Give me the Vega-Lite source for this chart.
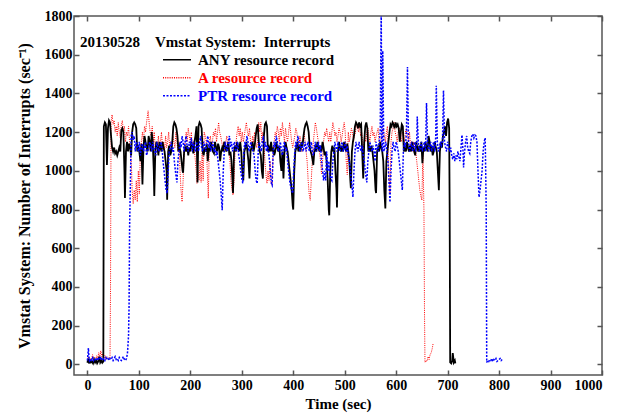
{
"$schema":"https://vega.github.io/schema/vega-lite/v6.json",
"width":528,"height":359,"autosize":"none",
"padding":{"left":74,"top":16,"right":26,"bottom":39},
"title":{"text":"20130528\u00a0\u00a0\u00a0\u00a0Vmstat System:\u00a0\u00a0Interrupts","anchor":"start","frame":"group","orient":"top","offset":0,"baseline":"alphabetic","dx":6,"dy":53,"font":"Liberation Serif","fontSize":15,"fontWeight":"bold","color":"black"},
"config":{
 "view":{"stroke":"#555","strokeWidth":1.5},
 "axis":{"labelFont":"Liberation Serif","labelFontWeight":"bold","labelFontSize":14,"labelColor":"black","titleFont":"Liberation Serif","titleFontWeight":"bold","titleFontSize":15,"titleColor":"black","tickColor":"#555","tickWidth":1.5,"tickSize":-5,"domain":false,"grid":false,"format":"d"}
},
"datasets":{
"any":[{"t":0,"v":8},{"t":2,"v":30},{"t":3,"v":5},{"t":5,"v":20},{"t":7,"v":10},{"t":9,"v":15},{"t":11,"v":5},{"t":13,"v":25},{"t":15,"v":10},{"t":17,"v":20},{"t":19,"v":5},{"t":21,"v":15},{"t":23,"v":40},{"t":25,"v":10},{"t":27,"v":20},{"t":29,"v":8},{"t":31,"v":15},{"t":32,"v":1230},{"t":34,"v":1250},{"t":36,"v":1240},{"t":38,"v":1030},{"t":40,"v":1220},{"t":42,"v":1260},{"t":44,"v":1250},{"t":46,"v":1180},{"t":48,"v":1120},{"t":50,"v":1100},{"t":52,"v":1120},{"t":54,"v":1090},{"t":56,"v":1100},{"t":58,"v":1080},{"t":60,"v":1100},{"t":62,"v":1120},{"t":64,"v":1100},{"t":66,"v":1210},{"t":68,"v":1220},{"t":70,"v":1200},{"t":72,"v":1000},{"t":73,"v":860},{"t":75,"v":1100},{"t":77,"v":1150},{"t":79,"v":1100},{"t":81,"v":1140},{"t":83,"v":1120},{"t":85,"v":1080},{"t":87,"v":1200},{"t":89,"v":1240},{"t":91,"v":1250},{"t":93,"v":1240},{"t":95,"v":1220},{"t":97,"v":1100},{"t":99,"v":1120},{"t":101,"v":1100},{"t":103,"v":1050},{"t":105,"v":1140},{"t":107,"v":930},{"t":109,"v":1120},{"t":111,"v":1180},{"t":113,"v":1150},{"t":115,"v":1120},{"t":117,"v":1100},{"t":119,"v":1180},{"t":121,"v":1150},{"t":123,"v":1100},{"t":125,"v":1200},{"t":127,"v":1150},{"t":129,"v":1000},{"t":130,"v":870},{"t":132,"v":1100},{"t":134,"v":1150},{"t":136,"v":1130},{"t":138,"v":1080},{"t":140,"v":1150},{"t":142,"v":1120},{"t":144,"v":1100},{"t":146,"v":1150},{"t":148,"v":1120},{"t":150,"v":1100},{"t":152,"v":1050},{"t":154,"v":1000},{"t":155,"v":850},{"t":157,"v":1100},{"t":159,"v":1130},{"t":161,"v":1080},{"t":163,"v":1100},{"t":165,"v":1150},{"t":167,"v":1230},{"t":169,"v":1250},{"t":171,"v":1240},{"t":173,"v":1220},{"t":175,"v":1180},{"t":177,"v":1100},{"t":179,"v":1120},{"t":181,"v":1100},{"t":183,"v":1050},{"t":185,"v":1000},{"t":186,"v":990},{"t":188,"v":1100},{"t":190,"v":1120},{"t":192,"v":1100},{"t":194,"v":1130},{"t":196,"v":1080},{"t":198,"v":1120},{"t":200,"v":1100},{"t":202,"v":1150},{"t":204,"v":1120},{"t":206,"v":1090},{"t":208,"v":1150},{"t":210,"v":1180},{"t":212,"v":1230},{"t":214,"v":940},{"t":216,"v":1230},{"t":218,"v":1250},{"t":220,"v":1240},{"t":222,"v":1220},{"t":224,"v":1100},{"t":226,"v":1080},{"t":228,"v":1120},{"t":230,"v":1100},{"t":232,"v":1140},{"t":234,"v":1050},{"t":236,"v":1120},{"t":238,"v":1100},{"t":240,"v":1150},{"t":242,"v":1120},{"t":244,"v":1100},{"t":246,"v":1090},{"t":248,"v":1150},{"t":250,"v":1120},{"t":252,"v":1100},{"t":254,"v":1140},{"t":256,"v":1120},{"t":258,"v":1050},{"t":260,"v":1100},{"t":262,"v":1120},{"t":264,"v":1100},{"t":266,"v":1150},{"t":268,"v":1130},{"t":270,"v":1100},{"t":272,"v":1120},{"t":274,"v":1150},{"t":276,"v":1080},{"t":278,"v":1100},{"t":280,"v":1050},{"t":282,"v":950},{"t":283,"v":885},{"t":285,"v":1100},{"t":287,"v":1130},{"t":289,"v":1100},{"t":291,"v":1150},{"t":293,"v":1120},{"t":295,"v":1100},{"t":297,"v":1150},{"t":299,"v":1100},{"t":301,"v":1000},{"t":303,"v":950},{"t":305,"v":1100},{"t":307,"v":1120},{"t":309,"v":1150},{"t":311,"v":1100},{"t":313,"v":1050},{"t":315,"v":960},{"t":317,"v":1100},{"t":319,"v":1120},{"t":321,"v":1150},{"t":323,"v":1100},{"t":325,"v":1130},{"t":327,"v":1180},{"t":329,"v":1220},{"t":331,"v":1240},{"t":333,"v":1150},{"t":335,"v":1100},{"t":337,"v":1080},{"t":339,"v":1000},{"t":341,"v":960},{"t":343,"v":1180},{"t":345,"v":1240},{"t":347,"v":1250},{"t":349,"v":1230},{"t":351,"v":1100},{"t":353,"v":1120},{"t":355,"v":1100},{"t":357,"v":1150},{"t":359,"v":1100},{"t":361,"v":1120},{"t":363,"v":1080},{"t":365,"v":1100},{"t":367,"v":1150},{"t":369,"v":1120},{"t":371,"v":1100},{"t":373,"v":1130},{"t":375,"v":1050},{"t":377,"v":1000},{"t":379,"v":1100},{"t":381,"v":960},{"t":383,"v":1100},{"t":385,"v":1150},{"t":387,"v":1120},{"t":389,"v":1100},{"t":391,"v":1050},{"t":393,"v":1000},{"t":395,"v":950},{"t":397,"v":900},{"t":399,"v":820},{"t":400,"v":800},{"t":402,"v":1000},{"t":404,"v":1100},{"t":406,"v":1120},{"t":408,"v":1150},{"t":410,"v":1100},{"t":412,"v":1120},{"t":414,"v":1100},{"t":416,"v":1150},{"t":418,"v":1130},{"t":420,"v":1180},{"t":422,"v":1220},{"t":424,"v":1240},{"t":426,"v":1250},{"t":428,"v":1230},{"t":430,"v":1200},{"t":432,"v":1120},{"t":434,"v":1100},{"t":436,"v":1080},{"t":438,"v":1050},{"t":439,"v":1030},{"t":441,"v":1100},{"t":443,"v":1120},{"t":445,"v":1100},{"t":447,"v":1150},{"t":449,"v":1120},{"t":451,"v":1100},{"t":453,"v":1130},{"t":455,"v":1100},{"t":457,"v":1150},{"t":459,"v":1120},{"t":461,"v":1080},{"t":463,"v":1100},{"t":465,"v":1050},{"t":467,"v":950},{"t":469,"v":800},{"t":470,"v":770},{"t":472,"v":1000},{"t":474,"v":1100},{"t":476,"v":1130},{"t":478,"v":1100},{"t":480,"v":1120},{"t":482,"v":1000},{"t":484,"v":900},{"t":485,"v":810},{"t":487,"v":1100},{"t":489,"v":1150},{"t":491,"v":1120},{"t":493,"v":1100},{"t":495,"v":1130},{"t":497,"v":1100},{"t":499,"v":1150},{"t":501,"v":1120},{"t":503,"v":1100},{"t":505,"v":1140},{"t":507,"v":1100},{"t":509,"v":1050},{"t":511,"v":950},{"t":512,"v":910},{"t":514,"v":1100},{"t":516,"v":1150},{"t":518,"v":1180},{"t":520,"v":1230},{"t":522,"v":1250},{"t":524,"v":1240},{"t":526,"v":1220},{"t":528,"v":1250},{"t":530,"v":1230},{"t":532,"v":1240},{"t":534,"v":1100},{"t":536,"v":960},{"t":538,"v":1150},{"t":540,"v":1230},{"t":542,"v":1250},{"t":544,"v":1220},{"t":546,"v":1100},{"t":548,"v":1120},{"t":550,"v":1100},{"t":552,"v":1130},{"t":554,"v":1100},{"t":556,"v":1050},{"t":558,"v":1000},{"t":560,"v":900},{"t":561,"v":885},{"t":563,"v":1100},{"t":565,"v":1120},{"t":567,"v":1100},{"t":569,"v":1150},{"t":571,"v":1120},{"t":573,"v":1100},{"t":575,"v":1050},{"t":577,"v":900},{"t":579,"v":806},{"t":581,"v":1050},{"t":583,"v":1100},{"t":585,"v":1150},{"t":587,"v":1200},{"t":589,"v":1240},{"t":591,"v":1230},{"t":593,"v":1250},{"t":595,"v":1240},{"t":597,"v":1220},{"t":599,"v":1250},{"t":601,"v":1230},{"t":603,"v":1240},{"t":605,"v":1220},{"t":607,"v":1150},{"t":609,"v":1200},{"t":611,"v":1240},{"t":613,"v":1230},{"t":615,"v":1100},{"t":617,"v":1120},{"t":619,"v":1100},{"t":621,"v":1150},{"t":623,"v":1120},{"t":625,"v":1100},{"t":627,"v":1130},{"t":629,"v":1100},{"t":631,"v":1150},{"t":633,"v":1120},{"t":635,"v":1100},{"t":637,"v":1080},{"t":639,"v":1150},{"t":641,"v":1120},{"t":643,"v":1100},{"t":645,"v":1130},{"t":647,"v":1100},{"t":649,"v":1150},{"t":651,"v":1040},{"t":653,"v":1120},{"t":655,"v":1100},{"t":657,"v":1150},{"t":659,"v":1120},{"t":661,"v":1100},{"t":663,"v":1180},{"t":665,"v":1150},{"t":667,"v":1100},{"t":669,"v":1130},{"t":671,"v":1080},{"t":673,"v":1100},{"t":675,"v":1150},{"t":677,"v":1120},{"t":679,"v":1100},{"t":681,"v":1000},{"t":683,"v":900},{"t":685,"v":1100},{"t":687,"v":1150},{"t":689,"v":1120},{"t":691,"v":1180},{"t":693,"v":1200},{"t":695,"v":1230},{"t":697,"v":1180},{"t":699,"v":1250},{"t":701,"v":1270},{"t":703,"v":1220},{"t":704,"v":795},{"t":705,"v":10},{"t":707,"v":5},{"t":709,"v":20},{"t":710,"v":58},{"t":712,"v":10},{"t":714,"v":20},{"t":715,"v":5}],
"a":[{"t":0,"v":20},{"t":2,"v":40},{"t":4,"v":15},{"t":6,"v":30},{"t":8,"v":20},{"t":10,"v":50},{"t":12,"v":25},{"t":14,"v":35},{"t":16,"v":20},{"t":18,"v":45},{"t":20,"v":30},{"t":22,"v":60},{"t":24,"v":35},{"t":26,"v":70},{"t":28,"v":40},{"t":30,"v":55},{"t":32,"v":30},{"t":34,"v":45},{"t":36,"v":25},{"t":38,"v":40},{"t":40,"v":30},{"t":42,"v":35},{"t":44,"v":30},{"t":45,"v":400},{"t":46,"v":1250},{"t":48,"v":1290},{"t":50,"v":1240},{"t":52,"v":1260},{"t":54,"v":1200},{"t":56,"v":1230},{"t":58,"v":1180},{"t":60,"v":1250},{"t":62,"v":1200},{"t":64,"v":1170},{"t":66,"v":1240},{"t":68,"v":1260},{"t":70,"v":1200},{"t":72,"v":1230},{"t":74,"v":1150},{"t":76,"v":1200},{"t":78,"v":1180},{"t":80,"v":1230},{"t":82,"v":1150},{"t":84,"v":1100},{"t":86,"v":1000},{"t":87,"v":900},{"t":89,"v":830},{"t":91,"v":900},{"t":93,"v":850},{"t":95,"v":950},{"t":97,"v":840},{"t":99,"v":1000},{"t":101,"v":880},{"t":103,"v":1100},{"t":105,"v":1150},{"t":107,"v":1200},{"t":109,"v":1150},{"t":111,"v":1230},{"t":113,"v":1200},{"t":115,"v":1250},{"t":117,"v":1290},{"t":118,"v":1310},{"t":120,"v":1250},{"t":122,"v":1200},{"t":124,"v":1180},{"t":126,"v":1230},{"t":128,"v":1150},{"t":130,"v":1200},{"t":132,"v":1100},{"t":134,"v":1150},{"t":136,"v":1120},{"t":138,"v":1180},{"t":140,"v":1100},{"t":142,"v":1150},{"t":144,"v":1200},{"t":146,"v":1120},{"t":148,"v":1150},{"t":150,"v":1100},{"t":152,"v":1180},{"t":154,"v":1120},{"t":156,"v":1150},{"t":158,"v":1200},{"t":160,"v":1120},{"t":162,"v":1150},{"t":164,"v":1100},{"t":166,"v":1180},{"t":168,"v":1150},{"t":170,"v":1120},{"t":172,"v":1200},{"t":174,"v":1150},{"t":176,"v":1100},{"t":178,"v":1150},{"t":180,"v":1000},{"t":182,"v":900},{"t":184,"v":840},{"t":186,"v":950},{"t":188,"v":1100},{"t":190,"v":1150},{"t":192,"v":1200},{"t":194,"v":1150},{"t":196,"v":1220},{"t":198,"v":1180},{"t":200,"v":1150},{"t":202,"v":1200},{"t":204,"v":1120},{"t":206,"v":1150},{"t":208,"v":1100},{"t":210,"v":1050},{"t":212,"v":980},{"t":213,"v":935},{"t":215,"v":1000},{"t":217,"v":950},{"t":219,"v":1050},{"t":221,"v":940},{"t":223,"v":1100},{"t":225,"v":950},{"t":227,"v":1200},{"t":229,"v":1180},{"t":231,"v":1150},{"t":233,"v":1000},{"t":235,"v":858},{"t":237,"v":1150},{"t":239,"v":1180},{"t":241,"v":1120},{"t":243,"v":1150},{"t":245,"v":1200},{"t":247,"v":1180},{"t":249,"v":1220},{"t":251,"v":1150},{"t":253,"v":1200},{"t":255,"v":1250},{"t":257,"v":1200},{"t":259,"v":1180},{"t":261,"v":1150},{"t":263,"v":1120},{"t":265,"v":1150},{"t":267,"v":1100},{"t":269,"v":1150},{"t":271,"v":1180},{"t":273,"v":1120},{"t":275,"v":1100},{"t":277,"v":1050},{"t":279,"v":950},{"t":281,"v":900},{"t":283,"v":875},{"t":285,"v":950},{"t":287,"v":1100},{"t":289,"v":1150},{"t":291,"v":1200},{"t":293,"v":1230},{"t":295,"v":1180},{"t":297,"v":1220},{"t":299,"v":1150},{"t":301,"v":1200},{"t":303,"v":1150},{"t":305,"v":1180},{"t":307,"v":1220},{"t":309,"v":1250},{"t":311,"v":1200},{"t":313,"v":1180},{"t":315,"v":1220},{"t":317,"v":1150},{"t":319,"v":1120},{"t":321,"v":1180},{"t":323,"v":1150},{"t":325,"v":1200},{"t":327,"v":1150},{"t":329,"v":1120},{"t":331,"v":1150},{"t":333,"v":1250},{"t":335,"v":1200},{"t":337,"v":1250},{"t":339,"v":1150},{"t":341,"v":1200},{"t":343,"v":1150},{"t":345,"v":1050},{"t":347,"v":980},{"t":349,"v":935},{"t":351,"v":1000},{"t":353,"v":950},{"t":355,"v":1050},{"t":357,"v":935},{"t":359,"v":925},{"t":361,"v":1100},{"t":363,"v":1150},{"t":365,"v":1200},{"t":367,"v":1180},{"t":369,"v":1230},{"t":371,"v":1200},{"t":373,"v":1150},{"t":375,"v":1220},{"t":377,"v":1180},{"t":379,"v":1250},{"t":381,"v":1200},{"t":383,"v":1150},{"t":385,"v":1220},{"t":387,"v":1180},{"t":389,"v":1150},{"t":391,"v":1200},{"t":393,"v":1250},{"t":395,"v":1200},{"t":397,"v":1150},{"t":399,"v":1120},{"t":401,"v":1150},{"t":403,"v":1180},{"t":405,"v":1220},{"t":407,"v":1200},{"t":409,"v":1150},{"t":411,"v":1120},{"t":413,"v":1180},{"t":415,"v":1150},{"t":417,"v":1100},{"t":419,"v":1150},{"t":421,"v":1200},{"t":423,"v":1150},{"t":425,"v":1100},{"t":427,"v":1050},{"t":429,"v":950},{"t":431,"v":880},{"t":433,"v":848},{"t":435,"v":950},{"t":437,"v":1050},{"t":439,"v":1150},{"t":441,"v":1200},{"t":443,"v":1250},{"t":445,"v":1220},{"t":447,"v":1180},{"t":449,"v":1150},{"t":451,"v":1100},{"t":453,"v":1050},{"t":455,"v":985},{"t":457,"v":1050},{"t":459,"v":1150},{"t":461,"v":1200},{"t":463,"v":1180},{"t":465,"v":1220},{"t":467,"v":1180},{"t":469,"v":1150},{"t":471,"v":1200},{"t":473,"v":1150},{"t":475,"v":1200},{"t":477,"v":1250},{"t":479,"v":1220},{"t":481,"v":1180},{"t":483,"v":1200},{"t":485,"v":1150},{"t":487,"v":1180},{"t":489,"v":1220},{"t":491,"v":1200},{"t":493,"v":1150},{"t":495,"v":1180},{"t":497,"v":1220},{"t":499,"v":1250},{"t":501,"v":1200},{"t":503,"v":1050},{"t":505,"v":980},{"t":507,"v":1200},{"t":509,"v":1150},{"t":511,"v":1180},{"t":513,"v":1220},{"t":515,"v":1200},{"t":517,"v":1150},{"t":519,"v":1180},{"t":521,"v":1200},{"t":523,"v":1250},{"t":525,"v":1220},{"t":527,"v":1200},{"t":529,"v":1230},{"t":531,"v":1180},{"t":533,"v":1200},{"t":535,"v":1150},{"t":537,"v":1120},{"t":539,"v":1180},{"t":541,"v":1150},{"t":543,"v":1200},{"t":545,"v":1220},{"t":547,"v":1180},{"t":549,"v":1150},{"t":551,"v":1200},{"t":553,"v":1230},{"t":555,"v":1180},{"t":557,"v":1200},{"t":559,"v":1150},{"t":561,"v":1180},{"t":563,"v":1200},{"t":565,"v":1220},{"t":567,"v":1150},{"t":569,"v":1120},{"t":571,"v":1180},{"t":573,"v":1200},{"t":575,"v":1220},{"t":577,"v":1180},{"t":579,"v":1150},{"t":581,"v":1200},{"t":583,"v":1230},{"t":585,"v":1050},{"t":587,"v":930},{"t":588,"v":885},{"t":590,"v":1150},{"t":592,"v":1200},{"t":594,"v":1220},{"t":596,"v":1250},{"t":598,"v":1200},{"t":600,"v":1180},{"t":602,"v":1150},{"t":604,"v":1200},{"t":606,"v":1220},{"t":608,"v":1180},{"t":610,"v":1150},{"t":612,"v":1200},{"t":614,"v":1180},{"t":616,"v":1150},{"t":618,"v":1200},{"t":620,"v":1220},{"t":622,"v":1180},{"t":624,"v":1150},{"t":626,"v":1200},{"t":628,"v":1120},{"t":630,"v":1150},{"t":632,"v":1100},{"t":634,"v":1150},{"t":636,"v":1120},{"t":638,"v":1100},{"t":640,"v":1050},{"t":642,"v":1000},{"t":644,"v":950},{"t":646,"v":900},{"t":648,"v":870},{"t":650,"v":848},{"t":652,"v":1100},{"t":654,"v":800},{"t":655,"v":300},{"t":656,"v":10},{"t":658,"v":20},{"t":660,"v":15},{"t":662,"v":40},{"t":664,"v":25},{"t":666,"v":50},{"t":668,"v":60},{"t":670,"v":80},{"t":672,"v":110}],
"ptr":[{"t":0,"v":20},{"t":1,"v":50},{"t":2,"v":84},{"t":3,"v":40},{"t":4,"v":20},{"t":6,"v":30},{"t":8,"v":15},{"t":10,"v":40},{"t":12,"v":20},{"t":14,"v":30},{"t":16,"v":25},{"t":18,"v":35},{"t":20,"v":20},{"t":22,"v":30},{"t":24,"v":25},{"t":26,"v":40},{"t":28,"v":20},{"t":30,"v":25},{"t":32,"v":30},{"t":34,"v":20},{"t":36,"v":35},{"t":38,"v":25},{"t":40,"v":30},{"t":42,"v":20},{"t":44,"v":30},{"t":46,"v":25},{"t":48,"v":35},{"t":50,"v":20},{"t":52,"v":30},{"t":54,"v":40},{"t":56,"v":25},{"t":58,"v":30},{"t":60,"v":20},{"t":62,"v":35},{"t":64,"v":25},{"t":66,"v":20},{"t":68,"v":30},{"t":70,"v":40},{"t":72,"v":25},{"t":74,"v":20},{"t":76,"v":30},{"t":78,"v":60},{"t":80,"v":150},{"t":81,"v":300},{"t":82,"v":700},{"t":84,"v":1000},{"t":85,"v":1180},{"t":87,"v":1200},{"t":89,"v":1160},{"t":91,"v":1180},{"t":93,"v":1100},{"t":95,"v":1150},{"t":97,"v":1130},{"t":99,"v":1100},{"t":101,"v":1150},{"t":103,"v":1080},{"t":105,"v":1120},{"t":107,"v":1140},{"t":109,"v":1100},{"t":111,"v":1120},{"t":113,"v":1150},{"t":115,"v":1080},{"t":117,"v":1100},{"t":119,"v":1120},{"t":121,"v":1150},{"t":123,"v":1130},{"t":125,"v":1100},{"t":127,"v":1150},{"t":129,"v":1120},{"t":131,"v":1100},{"t":133,"v":1080},{"t":135,"v":1150},{"t":137,"v":1120},{"t":139,"v":1100},{"t":141,"v":1130},{"t":143,"v":1150},{"t":145,"v":1120},{"t":147,"v":1050},{"t":149,"v":1000},{"t":151,"v":950},{"t":153,"v":900},{"t":155,"v":884},{"t":157,"v":1000},{"t":159,"v":1100},{"t":161,"v":1120},{"t":163,"v":1150},{"t":165,"v":1100},{"t":167,"v":1120},{"t":169,"v":1050},{"t":171,"v":1000},{"t":173,"v":960},{"t":174,"v":940},{"t":176,"v":1050},{"t":178,"v":1100},{"t":180,"v":1150},{"t":182,"v":1120},{"t":184,"v":1180},{"t":186,"v":1150},{"t":188,"v":1100},{"t":190,"v":1150},{"t":192,"v":1180},{"t":194,"v":1120},{"t":196,"v":1100},{"t":198,"v":1150},{"t":200,"v":1130},{"t":202,"v":1170},{"t":204,"v":1100},{"t":206,"v":1150},{"t":208,"v":1120},{"t":210,"v":1100},{"t":212,"v":1150},{"t":214,"v":1130},{"t":216,"v":1100},{"t":218,"v":1150},{"t":220,"v":1180},{"t":222,"v":1120},{"t":224,"v":1100},{"t":226,"v":1150},{"t":228,"v":1130},{"t":230,"v":1100},{"t":232,"v":1150},{"t":234,"v":1180},{"t":236,"v":1120},{"t":238,"v":1150},{"t":240,"v":1100},{"t":242,"v":1130},{"t":244,"v":1150},{"t":246,"v":1100},{"t":248,"v":1120},{"t":250,"v":1080},{"t":252,"v":1100},{"t":254,"v":1050},{"t":256,"v":1000},{"t":258,"v":950},{"t":260,"v":880},{"t":262,"v":796},{"t":264,"v":1000},{"t":266,"v":1100},{"t":268,"v":1150},{"t":270,"v":1120},{"t":272,"v":1100},{"t":274,"v":1150},{"t":276,"v":1180},{"t":278,"v":1120},{"t":280,"v":1150},{"t":282,"v":1100},{"t":284,"v":1130},{"t":286,"v":1150},{"t":288,"v":1100},{"t":290,"v":1120},{"t":292,"v":1150},{"t":294,"v":1080},{"t":296,"v":1050},{"t":298,"v":1000},{"t":300,"v":960},{"t":302,"v":935},{"t":304,"v":1100},{"t":306,"v":1150},{"t":308,"v":1120},{"t":310,"v":1180},{"t":312,"v":1150},{"t":314,"v":1100},{"t":316,"v":1130},{"t":318,"v":1150},{"t":320,"v":1120},{"t":322,"v":1100},{"t":324,"v":1080},{"t":326,"v":1000},{"t":328,"v":950},{"t":330,"v":935},{"t":332,"v":1100},{"t":334,"v":1150},{"t":336,"v":1120},{"t":338,"v":1100},{"t":340,"v":1150},{"t":342,"v":1180},{"t":344,"v":1120},{"t":346,"v":1150},{"t":348,"v":1100},{"t":350,"v":1130},{"t":352,"v":1100},{"t":354,"v":1050},{"t":356,"v":980},{"t":358,"v":930},{"t":359,"v":925},{"t":361,"v":1100},{"t":363,"v":1150},{"t":365,"v":1120},{"t":367,"v":1180},{"t":369,"v":1150},{"t":371,"v":1100},{"t":373,"v":1120},{"t":375,"v":1150},{"t":377,"v":1100},{"t":379,"v":1080},{"t":381,"v":1130},{"t":383,"v":1150},{"t":385,"v":1100},{"t":387,"v":1120},{"t":389,"v":1050},{"t":391,"v":1000},{"t":393,"v":950},{"t":395,"v":920},{"t":397,"v":900},{"t":399,"v":884},{"t":401,"v":1000},{"t":403,"v":1100},{"t":405,"v":1150},{"t":407,"v":1120},{"t":409,"v":1180},{"t":411,"v":1150},{"t":413,"v":1100},{"t":415,"v":1130},{"t":417,"v":1150},{"t":419,"v":1100},{"t":421,"v":1120},{"t":423,"v":1150},{"t":425,"v":1100},{"t":427,"v":1130},{"t":429,"v":1150},{"t":431,"v":1100},{"t":433,"v":1120},{"t":435,"v":1150},{"t":437,"v":1100},{"t":439,"v":1080},{"t":441,"v":1120},{"t":443,"v":1150},{"t":445,"v":1100},{"t":447,"v":1120},{"t":449,"v":1150},{"t":451,"v":1100},{"t":453,"v":1130},{"t":455,"v":1050},{"t":457,"v":1000},{"t":459,"v":950},{"t":461,"v":1000},{"t":463,"v":950},{"t":465,"v":1100},{"t":467,"v":1000},{"t":469,"v":1050},{"t":471,"v":980},{"t":473,"v":960},{"t":475,"v":950},{"t":477,"v":1050},{"t":479,"v":1100},{"t":481,"v":1150},{"t":483,"v":1120},{"t":485,"v":1100},{"t":487,"v":1150},{"t":489,"v":1120},{"t":491,"v":1100},{"t":493,"v":1130},{"t":495,"v":1150},{"t":497,"v":1100},{"t":499,"v":1120},{"t":501,"v":1150},{"t":503,"v":1100},{"t":505,"v":1130},{"t":507,"v":1080},{"t":509,"v":1050},{"t":511,"v":1000},{"t":513,"v":950},{"t":515,"v":900},{"t":516,"v":864},{"t":518,"v":1000},{"t":520,"v":1100},{"t":522,"v":1150},{"t":524,"v":1120},{"t":526,"v":1100},{"t":528,"v":1150},{"t":530,"v":1120},{"t":532,"v":1100},{"t":534,"v":1130},{"t":536,"v":1080},{"t":538,"v":1050},{"t":540,"v":1000},{"t":542,"v":960},{"t":543,"v":940},{"t":545,"v":1050},{"t":547,"v":1100},{"t":549,"v":1150},{"t":551,"v":1120},{"t":553,"v":1100},{"t":555,"v":1130},{"t":557,"v":1100},{"t":559,"v":1050},{"t":561,"v":1150},{"t":563,"v":1120},{"t":565,"v":1100},{"t":567,"v":1150},{"t":569,"v":1200},{"t":571,"v":1850},{"t":572,"v":1150},{"t":573,"v":1100},{"t":574,"v":1620},{"t":576,"v":1100},{"t":578,"v":1120},{"t":580,"v":1150},{"t":582,"v":1100},{"t":584,"v":1050},{"t":586,"v":950},{"t":588,"v":838},{"t":590,"v":1000},{"t":592,"v":1100},{"t":594,"v":1150},{"t":596,"v":1120},{"t":598,"v":1100},{"t":600,"v":1150},{"t":602,"v":1130},{"t":604,"v":1100},{"t":606,"v":1050},{"t":608,"v":1000},{"t":610,"v":950},{"t":612,"v":900},{"t":614,"v":1100},{"t":616,"v":1150},{"t":618,"v":1120},{"t":620,"v":1200},{"t":622,"v":1536},{"t":624,"v":1150},{"t":626,"v":1100},{"t":628,"v":1120},{"t":630,"v":1150},{"t":632,"v":1100},{"t":634,"v":1130},{"t":636,"v":1150},{"t":638,"v":1100},{"t":640,"v":1150},{"t":641,"v":1280},{"t":643,"v":1150},{"t":645,"v":1100},{"t":647,"v":1120},{"t":649,"v":1150},{"t":651,"v":1100},{"t":653,"v":1130},{"t":655,"v":1150},{"t":657,"v":1100},{"t":659,"v":1350},{"t":661,"v":1150},{"t":663,"v":1100},{"t":665,"v":1120},{"t":667,"v":1150},{"t":669,"v":1100},{"t":671,"v":1130},{"t":673,"v":1150},{"t":675,"v":1100},{"t":677,"v":1180},{"t":678,"v":1440},{"t":680,"v":1150},{"t":682,"v":1100},{"t":684,"v":1120},{"t":686,"v":1150},{"t":688,"v":1130},{"t":690,"v":1150},{"t":692,"v":1415},{"t":694,"v":1150},{"t":696,"v":1120},{"t":698,"v":1100},{"t":700,"v":1150},{"t":702,"v":1130},{"t":704,"v":1100},{"t":706,"v":1120},{"t":708,"v":1080},{"t":710,"v":1060},{"t":712,"v":1090},{"t":714,"v":1050},{"t":716,"v":1080},{"t":718,"v":1060},{"t":720,"v":1100},{"t":722,"v":1070},{"t":724,"v":1050},{"t":726,"v":1120},{"t":728,"v":1185},{"t":730,"v":1100},{"t":731,"v":1017},{"t":733,"v":1100},{"t":735,"v":1150},{"t":737,"v":1180},{"t":739,"v":1120},{"t":741,"v":1100},{"t":743,"v":1090},{"t":745,"v":1150},{"t":747,"v":1180},{"t":749,"v":1190},{"t":751,"v":1170},{"t":753,"v":1185},{"t":755,"v":1180},{"t":757,"v":1150},{"t":759,"v":1000},{"t":761,"v":864},{"t":763,"v":900},{"t":765,"v":950},{"t":767,"v":1000},{"t":769,"v":1100},{"t":771,"v":1150},{"t":773,"v":1170},{"t":774,"v":1000},{"t":775,"v":796},{"t":776,"v":10},{"t":778,"v":20},{"t":780,"v":15},{"t":782,"v":25},{"t":784,"v":20},{"t":786,"v":30},{"t":788,"v":15},{"t":790,"v":25},{"t":792,"v":20},{"t":794,"v":30},{"t":796,"v":15},{"t":798,"v":20},{"t":800,"v":25},{"t":802,"v":30},{"t":804,"v":20},{"t":806,"v":25}]
},
"resolve":{"axis":{"x":"independent","y":"independent"}},
"layer":[
{"data":{"name":"a"},"mark":{"type":"line","clip":true,"strokeWidth":1},
 "encoding":{
  "x":{"field":"t","type":"quantitative","scale":{"domain":[-26,1000],"nice":false,"zero":false},"axis":{"orient":"bottom","title":"Time (sec)","values":[0,100,200,300,400,500,600,700,800,900,1000],"labelPadding":8,"titlePadding":4}},
  "y":{"field":"v","type":"quantitative","scale":{"domain":[-55,1800],"nice":false,"zero":false},"axis":{"orient":"left","title":"Vmstat System: Number of Interrupts (sec\u207b\u00b9)","titleFontSize":16,"values":[0,200,400,600,800,1000,1200,1400,1600,1800],"labelPadding":7,"titlePadding":12}},
  "color":{"datum":"A resource record","type":"nominal","scale":{"domain":["ANY resource record","A resource record","PTR resource record"],"range":["#000000","#ff0000","#0000ff"]},
   "legend":{"orient":"none","legendX":88,"legendY":36,"title":null,"padding":0,"symbolType":"stroke","symbolSize":784,"symbolStrokeWidth":1.6,"clipHeight":15.5,"labelFont":"Liberation Serif","labelFontSize":15,"labelFontWeight":"bold","labelOffset":6,"rowPadding":2,"labelColor":{"expr":"datum.value == 'A resource record' ? '#ff0000' : datum.value == 'PTR resource record' ? '#0000ff' : '#000000'"}}},
  "strokeDash":{"datum":"A resource record","type":"nominal","scale":{"domain":["ANY resource record","A resource record","PTR resource record"],"range":[[1,0],[1,1.2],[2,1.5]]}}
 }},
{"data":{"name":"any"},"mark":{"type":"line","clip":true,"strokeWidth":1.8},
 "encoding":{
  "x":{"field":"t","type":"quantitative","axis":{"orient":"top","title":null,"labels":false,"values":[0,100,200,300,400,500,600,700,800,900,1000]}},
  "y":{"field":"v","type":"quantitative","axis":{"orient":"right","title":null,"labels":false,"values":[0,200,400,600,800,1000,1200,1400,1600,1800]}},
  "color":{"datum":"ANY resource record","type":"nominal"},
  "strokeDash":{"datum":"ANY resource record","type":"nominal"}
 }},
{"data":{"name":"ptr"},"mark":{"type":"line","clip":true,"strokeWidth":1.5},
 "encoding":{
  "x":{"field":"t","type":"quantitative","axis":null},
  "y":{"field":"v","type":"quantitative","axis":null},
  "color":{"datum":"PTR resource record","type":"nominal"},
  "strokeDash":{"datum":"PTR resource record","type":"nominal"}
 }}
]
}
